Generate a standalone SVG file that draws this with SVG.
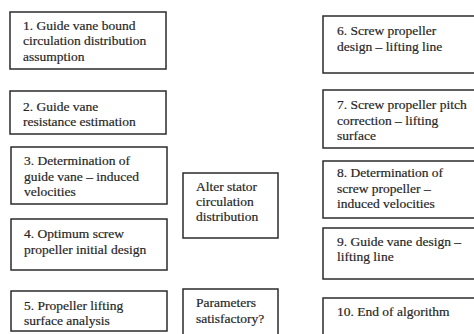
<svg xmlns="http://www.w3.org/2000/svg" width="474" height="334" viewBox="0 0 474 334">
<style>
rect{fill:#fff;stroke:#2b2b2b;stroke-width:1.5}
text{font-family:'Liberation Serif','DejaVu Serif',serif;font-size:13.5px;fill:#262626;stroke:#262626;stroke-width:0.2}
</style>
<rect x="0" y="0" width="474" height="334" style="stroke:none"/>
<g id="connectors"/>
<g font-family="Liberation Serif, serif">
<g id="n1"><rect x="10" y="12" width="156" height="57"/><text x="23" y="29.5">1. Guide vane bound</text><text x="23" y="45">circulation distribution</text><text x="23" y="61">assumption</text></g>
<g id="n2"><rect x="10" y="91" width="156" height="43"/><text x="23" y="111">2. Guide vane</text><text x="23" y="126">resistance estimation</text></g>
<g id="n3"><rect x="11" y="147" width="156" height="57"/><text x="24" y="165">3. Determination of</text><text x="24" y="180.5">guide vane – induced</text><text x="24" y="195.5">velocities</text></g>
<g id="n4"><rect x="11" y="219" width="156" height="51"/><text x="24" y="238">4. Optimum screw</text><text x="24" y="254">propeller initial design</text></g>
<g id="n5"><rect x="11" y="291" width="156" height="40"/><text x="24" y="310">5. Propeller lifting</text><text x="24" y="325">surface analysis</text></g>
<g id="alter"><rect x="183" y="173" width="95" height="65"/><text x="196" y="190.5">Alter stator</text><text x="196" y="205.5">circulation</text><text x="196" y="220.5">distribution</text></g>
<g id="params"><rect x="183" y="289" width="95" height="60"/><text x="196" y="307">Parameters</text><text x="196" y="323">satisfactory?</text></g>
<g id="n6"><rect x="323" y="16" width="160" height="57"/><text x="337" y="35">6. Screw propeller</text><text x="337" y="50.5">design – lifting line</text></g>
<g id="n7"><rect x="323" y="90" width="160" height="58"/><text x="337" y="108.5">7. Screw propeller pitch</text><text x="337" y="124.5">correction – lifting</text><text x="337" y="139.5">surface</text></g>
<g id="n8"><rect x="323" y="161" width="160" height="57"/><text x="337" y="177">8. Determination of</text><text x="337" y="192.5">screw propeller –</text><text x="337" y="208">induced velocities</text></g>
<g id="n9"><rect x="323" y="228" width="160" height="51"/><text x="337" y="246">9. Guide vane design –</text><text x="337" y="261">lifting line</text></g>
<g id="n10"><rect x="323" y="298" width="160" height="50"/><text x="337" y="316">10. End of algorithm</text></g>
</g>
</svg>
